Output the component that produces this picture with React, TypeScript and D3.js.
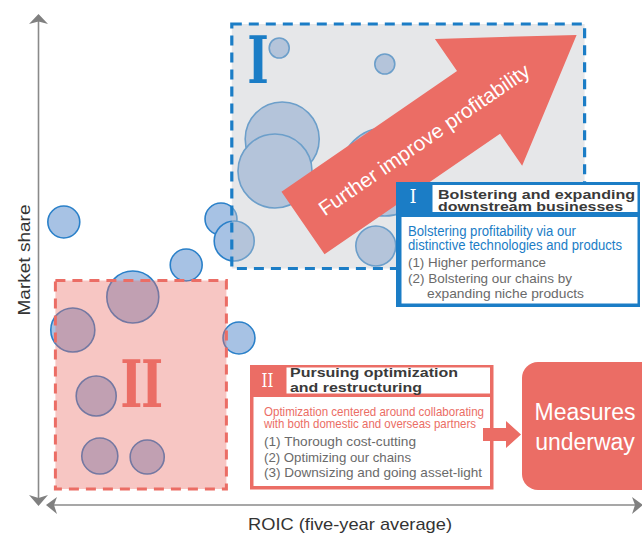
import * as d3 from 'd3';

const W = 642;
const H = 533;

// bubbles: ROIC (x), market share (y), bubble size
const bubbleRoic = [4.3, 30.5, 32.7, 24.7, 33.5, 15.8, 5.8, 9.7, 10.3, 18.2, 40.2, 57.8, 40.7, 39.5, 57.8, 56.3];
const bubbleShare = [56.6, 57.2, 52.8, 48, 33.4, 41.6, 35, 21.8, 9.8, 9.6, 91.4, 88.2, 73.2, 66.8, 66.6, 51.8];
const bubbleSize = [10.2, 10.2, 16, 10.2, 10.2, 27, 19.4, 16, 13, 11.6, 4, 4, 54.8, 54.8, 77.4, 16];

// zones in data units [x0, x1, y0, y1]
const zoneOne = [32.3, 91.1, 47.3, 96.2];
const zoneTwo = [2.9, 31.4, 3.2, 44.9];

const xLabel = 'ROIC (five-year average)';
const yLabel = 'Market share';
const arrowLabel = 'Further improve profitability';

const oneTitle = ['Bolstering and expanding', 'downstream businesses'];
const oneLead = ['Bolstering profitability via our', 'distinctive technologies and products'];
const oneItems = ['(1) Higher performance', '(2) Bolstering our chains by', 'expanding niche products'];

const twoTitle = ['Pursuing optimization', 'and restructuring'];
const twoLead = ['Optimization centered around collaborating', 'with both domestic and overseas partners'];
const twoItems = ['(1) Thorough cost-cutting', '(2) Optimizing our chains', '(3) Downsizing and going asset-light'];

const measures = ['Measures', 'underway'];

const BLUE = '#1b7dc6';
const RED = '#eb6d65';
const SANS = "'Liberation Sans', Arial, Helvetica, sans-serif";
const SERIF = "'DejaVu Serif', serif";

export default function App() {
  const x = d3.scaleLinear().domain([0, 100]).range([38, 638]);
  const y = d3.scaleLinear().domain([0, 100]).range([505, 5]);
  const r = d3.scaleSqrt().domain([0, 100]).range([0, 50]);

  const bubbles = bubbleRoic.map((v, i) => ({ x: v, y: bubbleShare[i], s: bubbleSize[i] }));

  const zoneRect = (z: number[]) => ({
    x: x(z[0]),
    y: y(z[3]),
    w: x(z[1]) - x(z[0]),
    h: y(z[2]) - y(z[3]),
  });
  const z1 = zoneRect(zoneOne);
  const z2 = zoneRect(zoneTwo);

  // big arrow in local coordinates (along, across)
  const arrowPts: [number, number][] = [
    [0, -38], [213, -38], [213, -77], [332, 0], [213, 77], [213, 38], [0, 38],
  ];
  const arrowPath = d3.line()(arrowPts) + 'Z';

  const lines = (
    items: string[],
    xs: number[],
    ys: number[],
    lens: number[],
    props: any
  ) =>
    items.map((t, i) => (
      <text
        key={t}
        x={xs[i]}
        y={ys[i]}
        textLength={lens[i]}
        lengthAdjust="spacingAndGlyphs"
        {...props}
      >
        {t}
      </text>
    ));

  return (
    <svg
      width={W}
      height={H}
      style={{ position: 'fixed', left: 0, top: 0, background: '#fff' }}
      fontFamily={SANS}
    >
      {/* bubbles */}
      <g>
        {bubbles.map((b, i) => (
          <circle
            key={i}
            cx={x(b.x)}
            cy={y(b.y)}
            r={r(b.s)}
            fill="#a7c2e4"
            stroke="#2a80c9"
            strokeWidth={1.6}
          />
        ))}
      </g>

      {/* zone II */}
      <rect x={z2.x} y={z2.y} width={z2.w} height={z2.h} fill={RED} fillOpacity={0.39} />
      <rect x={z2.x} y={z2.y} width={z2.w} height={z2.h} fill="none" stroke={RED} strokeWidth={3} strokeDasharray="10 7" />
      <text
        x={0}
        y={0}
        transform={`translate(141,407) scale(0.72,1)`}
        textAnchor="middle"
        fontFamily={SERIF}
        fontWeight="bold"
        fontSize={66}
        letterSpacing={-2}
        fill={RED}
      >
        II
      </text>

      {/* zone I */}
      <rect x={z1.x} y={z1.y} width={z1.w} height={z1.h} fill="rgb(197,199,204)" fillOpacity={0.43} />
      <rect x={z1.x} y={z1.y} width={z1.w} height={z1.h} fill="none" stroke={BLUE} strokeWidth={3.2} strokeDasharray="10 7" />
      <text
        x={0}
        y={0}
        transform={`translate(258,83) scale(0.7,1)`}
        textAnchor="middle"
        fontFamily={SERIF}
        fontWeight="bold"
        fontSize={66}
        fill={BLUE}
      >
        I
      </text>

      {/* big arrow */}
      <g transform="translate(303,223) rotate(-34.5)">
        <path d={arrowPath} fill={RED} />
        <text
          x={147}
          y={7}
          textAnchor="middle"
          fontSize={20.5}
          fill="#fff"
          textLength={251}
          lengthAdjust="spacingAndGlyphs"
        >
          {arrowLabel}
        </text>
      </g>

      {/* callout I */}
      <rect x={396} y={182} width={244} height={125} fill={BLUE} />
      <rect x={432.5} y={185} width={205} height={27} fill="#fff" />
      <rect x={401.5} y={217} width={236} height={86.5} fill="#fff" />
      <text x={413} y={203} textAnchor="middle" fontFamily={SERIF} fontSize={18} fill="#fff">
        I
      </text>
      {lines(oneTitle, [438, 438], [198.8, 211.3], [197, 185], {
        fontSize: 13.5,
        fontWeight: 'bold',
        fill: '#3a3a3a',
      })}
      {lines(oneLead, [408, 408], [235.5, 250], [168, 214], { fontSize: 14, fill: BLUE })}
      {lines(oneItems, [408, 408, 427], [266.7, 282.5, 298], [138, 164, 157], {
        fontSize: 13.2,
        fill: '#6a6a6a',
      })}

      {/* callout II */}
      <rect x={250} y={365} width={243.5} height={124.5} fill={RED} />
      <rect x={286.5} y={367.5} width={203.5} height={26} fill="#fff" />
      <rect x={253.5} y={397} width={236.5} height={89} fill="#fff" />
      <text
        x={0}
        y={0}
        transform="translate(267.5,387) scale(0.8,1)"
        textAnchor="middle"
        fontFamily={SERIF}
        fontSize={19}
        letterSpacing={0}
        fill="#fff"
      >
        II
      </text>
      {lines(twoTitle, [290, 290], [377.3, 391.7], [168, 132], {
        fontSize: 13.5,
        fontWeight: 'bold',
        fill: '#3a3a3a',
      })}
      {lines(twoLead, [264, 264], [415.7, 428.3], [220, 212], { fontSize: 13.2, fill: RED })}
      {lines(twoItems, [264, 264, 264], [445.7, 461.7, 477.3], [152, 147, 218], {
        fontSize: 13.2,
        fill: '#6a6a6a',
      })}

      {/* small arrow to measures */}
      <path d="M483,428 L506,428 L506,421 L521,434.5 L506,448 L506,441 L483,441 Z" fill={RED} />

      {/* measures box */}
      <rect x={522} y={362} width={150} height={128} rx={16} fill={RED} />
      {measures.map((t, i) => (
        <text key={t} x={585} y={420 + i * 30} textAnchor="middle" fontSize={23} fill="#fff">
          {t}
        </text>
      ))}

      {/* axes */}
      <g fill="#808080" stroke="none">
        <line x1={38.5} y1={20} x2={38.5} y2={498} stroke="#8a8a8a" strokeWidth={1.6} />
        <line x1={52} y1={505} x2={636} y2={505} stroke="#8a8a8a" strokeWidth={1.6} />
        <path d="M38.5,14 L48,24 L38.5,21.5 L29,24 Z" />
        <path d="M38.5,506 L29,495 L38.5,498 L48,495 Z" />
        <path d="M46,505 L57,497 L54,505 L57,514 Z" />
        <path d="M643,505 L632,497 L635,505 L632,514 Z" />
      </g>
      <text x={350} y={530} textAnchor="middle" fontSize={17} fill="#333" textLength={204} lengthAdjust="spacingAndGlyphs">
        {xLabel}
      </text>
      <text
        transform="translate(30,260) rotate(-90)"
        textAnchor="middle"
        fontSize={17}
        fill="#333"
        textLength={111}
        lengthAdjust="spacingAndGlyphs"
      >
        {yLabel}
      </text>
    </svg>
  );
}
